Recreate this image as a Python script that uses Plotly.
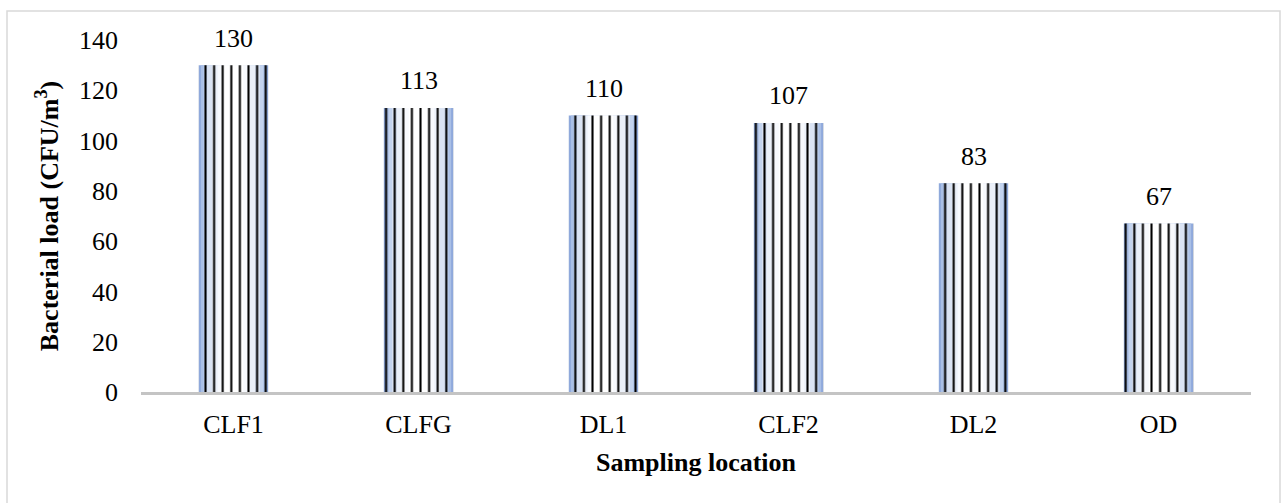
import plotly.graph_objects as go

# ---- data ----
categories = ["CLF1", "CLFG", "DL1", "CLF2", "DL2", "OD"]
bacterial_load = [130, 113, 110, 107, 83, 67]
y_ticks = [0, 20, 40, 60, 80, 100, 120, 140]

# ---- layout constants ----
W, H = 1284, 503
ML, MR, MT, MB = 141, 33, 40, 111
FONT = "Liberation Serif, Times New Roman, serif"
FS = 26
BAR_W = 0.375

fig = go.Figure()

# gradient-like layered bars (blue edges fading to white centre)
layers = [
    (1.00, "#8FA9DB"),
    (0.94, "#A9BFE6"),
    (0.86, "#C3D3EE"),
    (0.76, "#DAE3F3"),
    (0.62, "#EBF0F9"),
    (0.46, "#F7F9FD"),
    (0.28, "#FFFFFF"),
]
for frac, col in layers:
    fig.add_trace(go.Bar(
        x=categories, y=bacterial_load, width=BAR_W * frac,
        marker=dict(color=col, line=dict(width=0)),
        hoverinfo="skip", showlegend=False,
    ))

# vertical line pattern on top
fig.add_trace(go.Bar(
    x=categories, y=bacterial_load, width=BAR_W,
    marker=dict(
        color="black", line=dict(width=0),
        pattern=dict(shape="|", size=8.6, solidity=0.24, fillmode="replace"),
    ),
    showlegend=False,
))

# value labels
for c, v in zip(categories, bacterial_load):
    fig.add_annotation(
        x=c, y=v, text=str(v), showarrow=False,
        yanchor="middle", yshift=27,
        font=dict(family=FONT, size=FS, color="black"),
    )

pw = W - ML - MR
ph = H - MT - MB
# outer light grey frame
fig.add_shape(
    type="rect", xref="paper", yref="paper",
    x0=(7 - ML) / pw, x1=(1280 - ML) / pw,
    y0=(H - 520 - MB) / ph, y1=(H - 11 - MB) / ph,
    line=dict(color="#D9D9D9", width=1.5), fillcolor="rgba(0,0,0,0)",
    layer="below",
)

fig.update_layout(
    width=W, height=H,
    margin=dict(l=ML, r=MR, t=MT, b=MB, pad=0),
    paper_bgcolor="white", plot_bgcolor="white",
    barmode="overlay", bargap=0.625,
    font=dict(family=FONT, size=FS, color="black"),
    xaxis=dict(
        showgrid=False, showline=True, linecolor="#C4C4C4", linewidth=2.5,
        ticks="", ticklabelstandoff=7,
        tickfont=dict(family=FONT, size=FS),
        title=dict(text="<b>Sampling location</b>", standoff=15,
                   font=dict(family=FONT, size=FS)),
    ),
    yaxis=dict(
        range=[0, 140], tickvals=y_ticks, showgrid=False, showline=False,
        zeroline=False, ticks="", ticklabelstandoff=22,
        tickfont=dict(family=FONT, size=FS),
        title=dict(text="<b>Bacterial load (CFU/m<sup>3</sup>)</b>", standoff=12,
                   font=dict(family=FONT, size=FS)),
    ),
)

fig.write_html("out.html")
